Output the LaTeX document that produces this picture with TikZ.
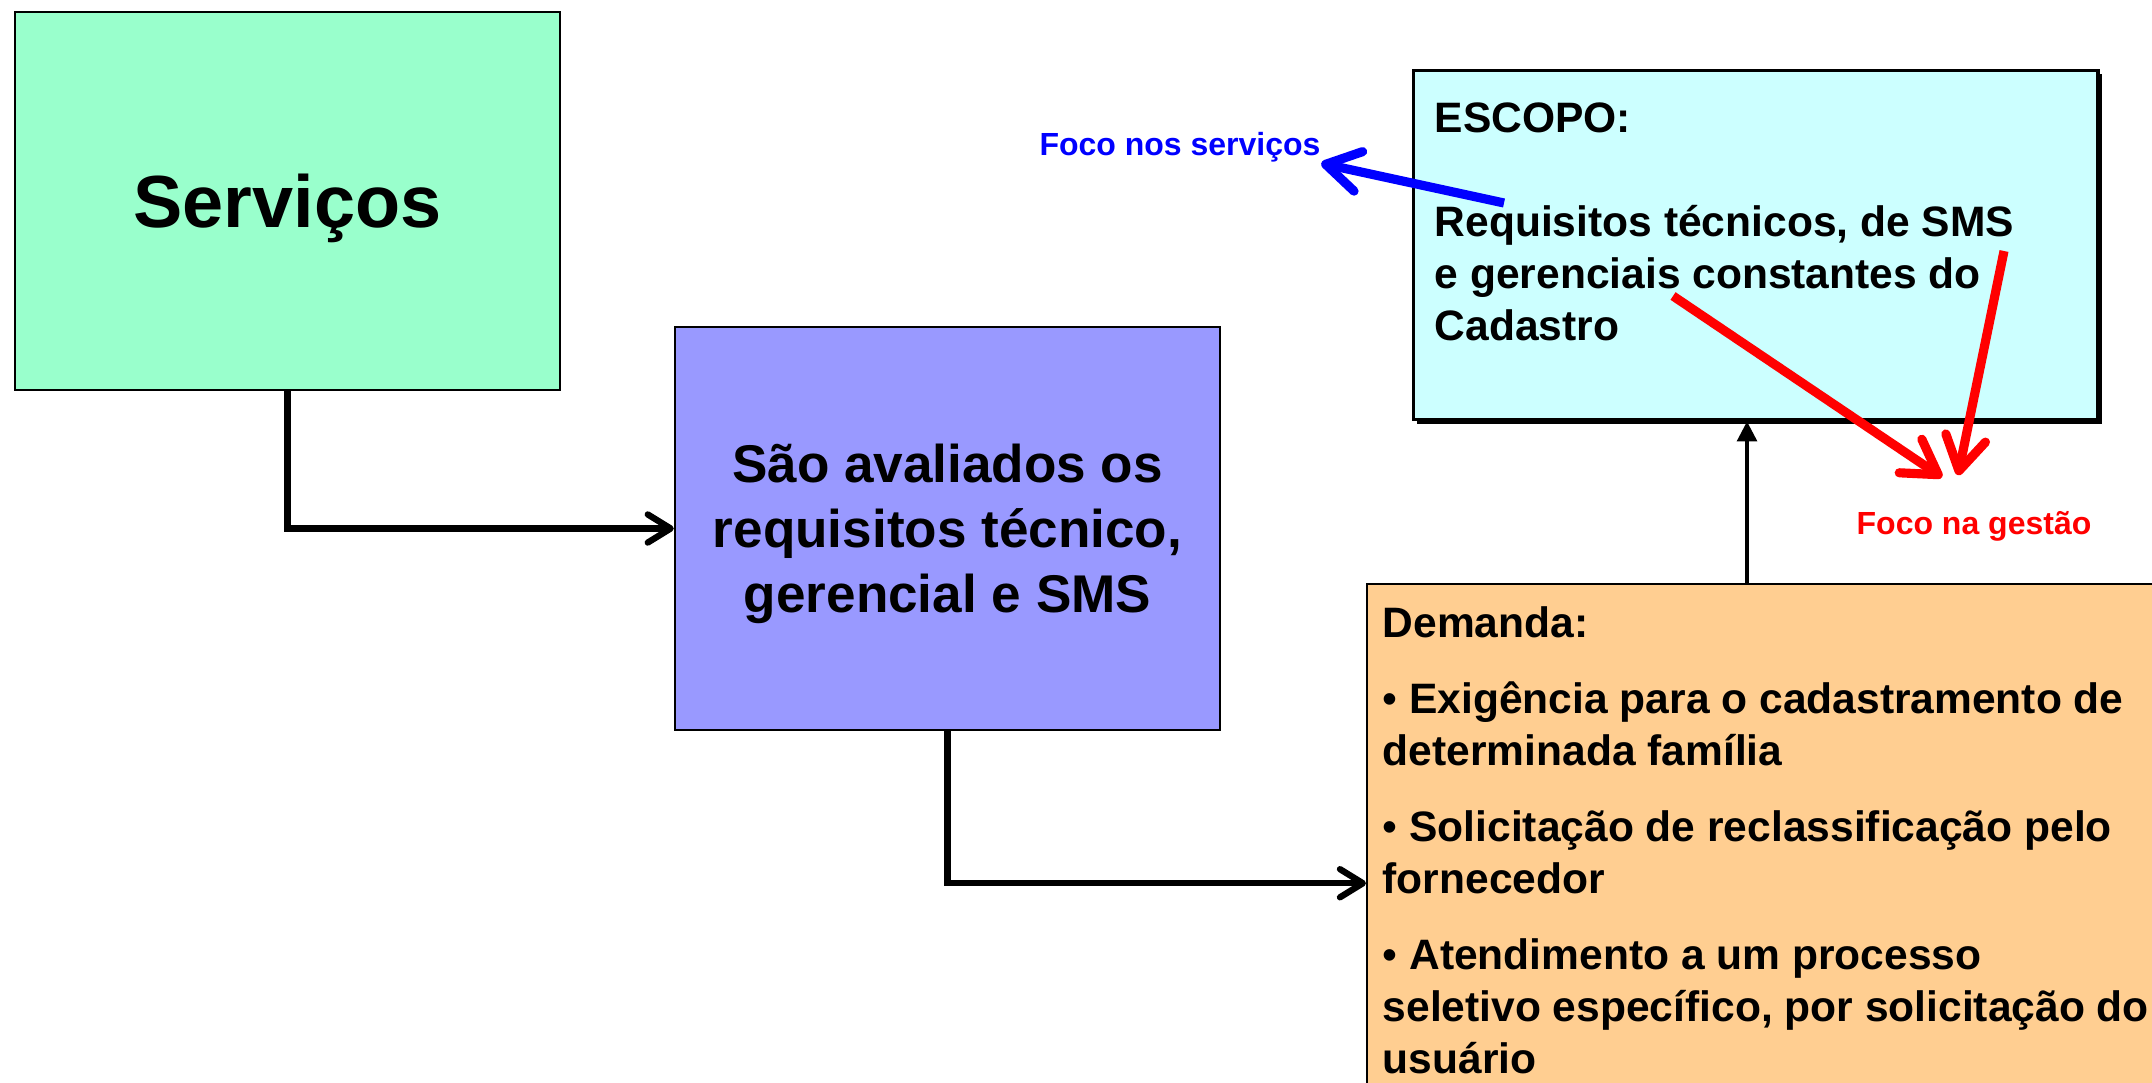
\documentclass[tikz,border=0pt]{standalone}
\usepackage{fontspec}
\setmainfont{Liberation Sans}
\usetikzlibrary{arrows.meta,positioning,calc,shadows}

\definecolor{servgreen}{HTML}{99FFCC}
\definecolor{evalblue}{HTML}{9999FF}
\definecolor{scopecyan}{HTML}{CCFFFF}
\definecolor{demandorange}{HTML}{FFCE91}

\newcommand{\dbullet}{{\mdseries •}}

\tikzset{
  box/.style={draw=black, line width=0.6pt, rectangle, inner sep=0pt},
  boxtext/.style={anchor=north west, align=left, inner sep=0pt,
    font=\fontsize{12.1}{14.8}\selectfont\bfseries},
  focuslabel/.style={anchor=base, inner sep=0pt,
    font=\fontsize{9.1}{11}\selectfont\bfseries},
  flow/.style={line width=1.8pt, -{Straight Barb[length=6.5pt,width=8pt,round]}},
  focus/.style={line width=2.6pt, -{Straight Barb[length=9.5pt,width=11.5pt,round]}},
}

\begin{document}
\begin{tikzpicture}[x=0.01cm, y=-0.01cm]
  \useasboundingbox (0,0) rectangle (2152,1082);
  \clip (0,0) rectangle (2152,1082);

  % boxes
  \node[box, fill=servgreen, minimum width=5.45cm, minimum height=3.78cm, text depth=0pt,
    font=\fontsize{21}{25}\selectfont\bfseries] (servicos) at (287.5,201) {Serviços};
  \node[box, fill=evalblue, minimum width=5.45cm, minimum height=4.03cm, align=center,
    text depth=0pt, font=\fontsize{15.1}{18.5}\selectfont\bfseries]
    (avaliacao) at (947.5,528.5)
    {São avaliados os\\requisitos técnico,\\gerencial e SMS};
  \node[box, fill=scopecyan, line width=0.9pt, anchor=north west,
    minimum width=6.84cm, minimum height=3.49cm,
    drop shadow={fill=black, opacity=1, shadow xshift=1.1pt, shadow yshift=-1.1pt}]
    (escopo) at (1412,69) {};
  \node[box, fill=demandorange, anchor=north west,
    minimum width=9cm, minimum height=5.98cm] (demanda) at (1366,583) {};

  % texts
  \node[boxtext] (escopotext) at (1434,102)
    {ESCOPO:\\[14.8pt]Requisitos técnicos, de SMS\\e gerenciais constantes do\\Cadastro};
  \node[boxtext] (demandatext) at (1382,606)
    {Demanda:\\[6.8pt]%
     \dbullet{} Exigência para o cadastramento de\\determinada família\\[6.8pt]%
     \dbullet{} Solicitação de reclassificação pelo\\fornecedor\\[6.8pt]%
     \dbullet{} Atendimento a um processo\\seletivo específico, por solicitação do\\usuário};
  \node[focuslabel, text=blue] (servfocus) at (1180,156) {Foco nos serviços};
  \node[focuslabel, text=red] (gestfocus) at (1974,534) {Foco na gestão};

  % free ends
  \coordinate (servtail) at (1504,203);
  \coordinate (gesttailA) at (1673,296);
  \coordinate (gesttailB) at (2004,251);
  \coordinate (upx) at (1747,0);

  % connectors
  \draw[flow] (servicos.south) |- (avaliacao.west);
  \draw[flow] (avaliacao.south) |- (demanda.west);
  \draw[line width=1.1pt, -{Triangle[length=5.7pt,width=5.6pt]}]
    (demanda.north west -| upx) -- (escopo.south -| upx);
  \draw[focus, blue] (servtail) -- (servfocus.south east);
  \draw[focus, red] (gesttailA) -- ($(gestfocus.north)+(-32,-33)$);
  \draw[focus, red] (gesttailB) -- ($(gestfocus.north)+(-16,-35)$);
\end{tikzpicture}
\end{document}
